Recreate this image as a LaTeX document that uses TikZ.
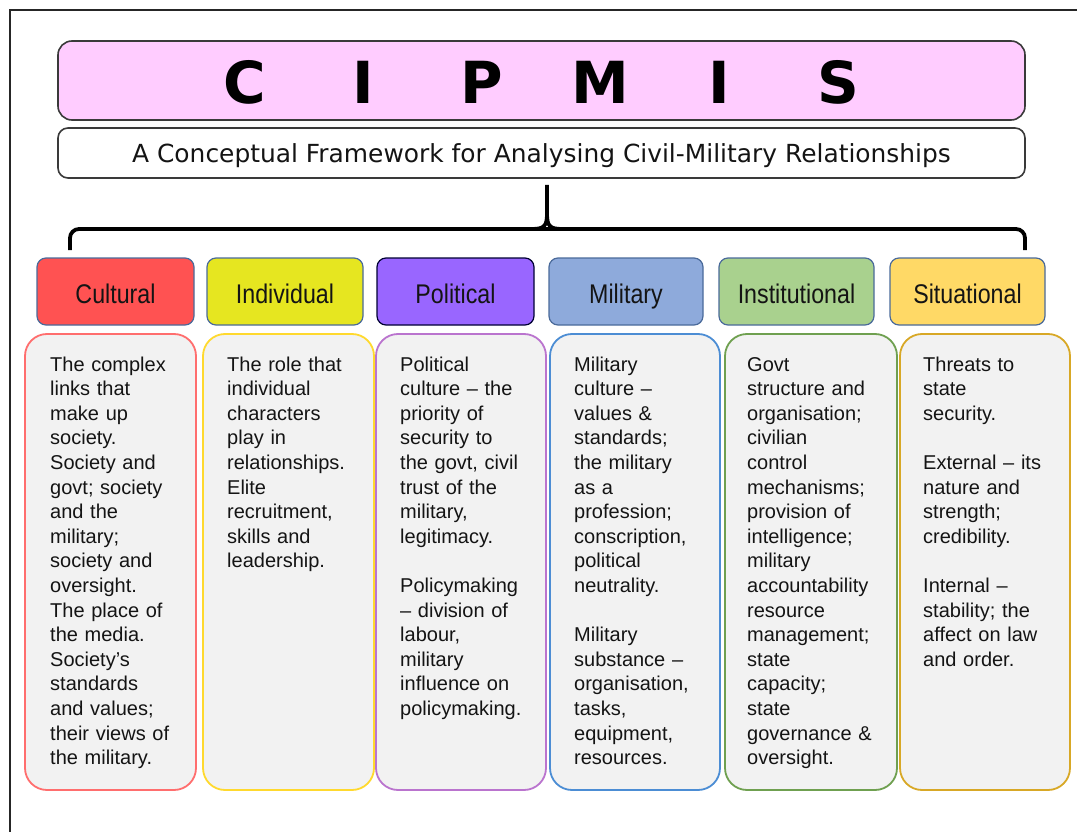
\documentclass[tikz,border=0pt]{standalone}
\usepackage{fontspec}
\usetikzlibrary{calc}
\setmainfont{Liberation Sans}
\newfontfamily\narrowfont[FakeStretch=0.86]{Liberation Sans}
\newfontfamily\titlefont{DejaVu Sans}

% fills and outlines
\definecolor{titlepink}{HTML}{FFCCFF}
\definecolor{boxline}{HTML}{3A3A3A}
\definecolor{hdrline}{HTML}{4A6A9A}
\definecolor{bodygray}{HTML}{F2F2F2}
\definecolor{culturalfill}{HTML}{FF5252}
\definecolor{individualfill}{HTML}{E6E620}
\definecolor{politicalfill}{HTML}{9966FF}
\definecolor{militaryfill}{HTML}{8EAADB}
\definecolor{institutionalfill}{HTML}{A9D18E}
\definecolor{situationalfill}{HTML}{FFD966}
\definecolor{culturalline}{HTML}{FF6E6E}
\definecolor{individualline}{HTML}{FFD92E}
\definecolor{politicalline}{HTML}{BA74CE}
\definecolor{militaryline}{HTML}{4C8DD4}
\definecolor{institutionalline}{HTML}{6FA050}
\definecolor{situationalline}{HTML}{D8A826}

\tikzset{
  frameline/.style={line width=2.2pt, draw=black!85},
  titlebox/.style={draw=boxline, line width=1.6pt, rounded corners=14pt, inner sep=0pt},
  hdrbox/.style={draw=hdrline, line width=1.2pt, rounded corners=9pt, minimum height=67pt,
    inner sep=0pt, text height=23pt, text depth=0pt, text=black!92,
    font=\narrowfont\fontsize{27}{30}\selectfont},
  bodybox/.style={fill=bodygray, line width=1.8pt, rounded corners=22pt, minimum height=456pt, inner sep=0pt},
  bodytext/.style={anchor=base west, inner sep=0pt, text width=165pt, align=left, text=black!92,
    font=\fontsize{20}{24.6}\selectfont},
  bracepath/.style={line width=3.8pt, draw=black}
}

\begin{document}
\begin{tikzpicture}[x=1pt, y=-1pt]
\useasboundingbox (0,0) rectangle (1077,832);

% outer frame (left and top edges)
\draw[frameline] (10,832) -- (10,10) -- (1077,10);

% title and subtitle
\node[titlebox, fill=titlepink, minimum width=967pt, minimum height=79pt,
      text height=47pt, text depth=0pt, font=\titlefont\bfseries\fontsize{58}{60}\selectfont]
  (title) at (541.5,80.5)
  {\makebox[118.6pt]{C}\makebox[118.6pt]{I}\makebox[118.6pt]{P}\makebox[118.6pt]{M}\makebox[118.6pt]{I}\makebox[118.6pt]{S}};
\node[titlebox, fill=white, rounded corners=10pt, minimum width=967pt, minimum height=50pt,
      text height=20pt, text depth=0pt, font=\titlefont\fontsize{24.9}{28}\selectfont, text=black!92]
  (subtitle) at (541.5,153)
  {A Conceptual Framework for Analysing Civil-Military Relationships};

% category headers
\node[hdrbox, fill=culturalfill, minimum width=157pt] (cultural) at (115.5,291.5) {Cultural};
\node[hdrbox, fill=individualfill, minimum width=156pt] (individual) at (285,291.5) {Individual};
\node[hdrbox, fill=politicalfill, draw=black!80!blue, minimum width=157pt] (political) at (455.5,291.5) {Political};
\node[hdrbox, fill=militaryfill, minimum width=154pt] (military) at (626,291.5) {Military};
\node[hdrbox, fill=institutionalfill, minimum width=155pt] (institutional) at (796.5,291.5) {Institutional};
\node[hdrbox, fill=situationalfill, minimum width=155pt] (situational) at (967.5,291.5) {Situational};

% brace from the subtitle down to the row of headers
\coordinate (braceL) at (70,250);
\coordinate (braceR) at (1025,250);
\coordinate (braceTip) at ($(subtitle.south)+(5.5,6)$);
\coordinate (braceMid) at (547,229);
\draw[bracepath, rounded corners=9pt] (braceL) -- (braceL |- braceMid) -- (braceR |- braceMid) -- (braceR);
\draw[bracepath] (532,229) .. controls (544,229) and (547,226) .. (547,214) -- (braceTip);
\draw[bracepath] (562,229) .. controls (550,229) and (547,226) .. (547,214);

% description panels
\node[bodybox, draw=culturalline, minimum width=171pt] (culturalbody) at (110.5,562) {};
\node[bodybox, draw=individualline, minimum width=171pt] (individualbody) at (288.5,562) {};
\node[bodybox, draw=politicalline, minimum width=170pt] (politicalbody) at (461,562) {};
\node[bodybox, draw=militaryline, minimum width=170pt] (militarybody) at (635,562) {};
\node[bodybox, draw=institutionalline, minimum width=172pt] (institutionalbody) at (811,562) {};
\node[bodybox, draw=situationalline, minimum width=170pt] (situationalbody) at (985,562) {};

\node[bodytext] (culturaltext) at (50,371)
  {The complex\\links that\\make up\\society.\\Society and\\govt; society\\and the\\military;\\society and\\oversight.\\The place of\\the media.\\Society’s\\standards\\and values;\\their views of\\the military.};
\node[bodytext] (individualtext) at (227,371)
  {The role that\\individual\\characters\\play in\\relationships.\\Elite\\recruitment,\\skills and\\leadership.};
\node[bodytext] (politicaltext) at (400,371)
  {Political\\culture – the\\priority of\\security to\\the govt, civil\\trust of the\\military,\\legitimacy.\\[24.6pt]Policymaking\\– division of\\labour,\\military\\influence on\\policymaking.};
\node[bodytext] (militarytext) at (574,371)
  {Military\\culture –\\values \&\\standards;\\the military\\as a\\profession;\\conscription,\\political\\neutrality.\\[24.6pt]Military\\substance –\\organisation,\\tasks,\\equipment,\\resources.};
\node[bodytext] (institutionaltext) at (747,371)
  {Govt\\structure and\\organisation;\\civilian\\control\\mechanisms;\\provision of\\intelligence;\\military\\accountability\\resource\\management;\\state\\capacity;\\state\\governance \&\\oversight.};
\node[bodytext] (situationaltext) at (923,371)
  {Threats to\\state\\security.\\[24.6pt]External – its\\nature and\\strength;\\credibility.\\[24.6pt]Internal –\\stability; the\\affect on law\\and order.};
\end{tikzpicture}
\end{document}
